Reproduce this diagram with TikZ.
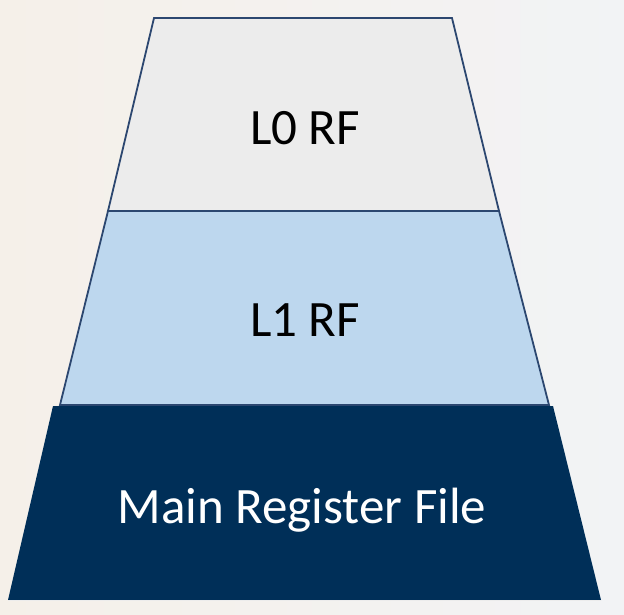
\documentclass[tikz,border=0pt]{standalone}
\usepackage{fontspec}
\setmainfont{Carlito}
\definecolor{edge}{HTML}{2C4770}
\definecolor{levelzero}{HTML}{ECECEC}
\definecolor{levelone}{HTML}{BDD7EE}
\definecolor{mainrf}{HTML}{002F58}
\definecolor{bgwarm}{HTML}{F5F0E9}
\definecolor{bgcool}{HTML}{F2F3F5}
\begin{document}
\begin{tikzpicture}[x=1pt,y=-1pt,
  tier/.style={draw=edge, line width=1.8pt, line join=miter},
  label/.style={font=\fontsize{51}{51}\selectfont, text=black, inner sep=0pt}]
  % backdrop
  \shade[left color=bgwarm, right color=bgcool, shading angle=90]
    (0,0) rectangle (624,615);
  \useasboundingbox (0,0) rectangle (624,615);
  % register-file pyramid
  \fill[mainrf] (53,406) -- (553,406) -- (601,600) -- (8,600) -- cycle;
  \draw[white!85!gray, line width=0.6pt] (8,600) -- (601,600);
  \filldraw[tier, fill=levelone] (108,211) -- (499,211) -- (549,405) -- (60,405) -- cycle;
  \filldraw[tier, fill=levelzero] (154,18) -- (452,18) -- (499,211) -- (108,211) -- cycle;
  % tier labels
  \node[label] (l0) at (305,128) {L0 RF};
  \node[label] (l1) at (305,320) {L1 RF};
  \node[label, text=white] (main) at (302,510) {Main Register File};
\end{tikzpicture}
\end{document}
